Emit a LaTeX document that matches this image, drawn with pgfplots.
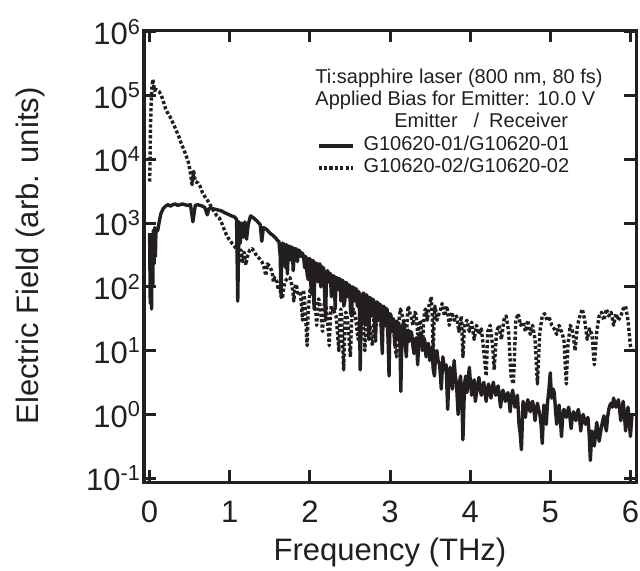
\documentclass[border=0pt]{standalone}
\usepackage{fontspec}
\setmainfont{Liberation Sans}
\usepackage{pgfplots}
\usepackage{pgfplotstable}
\pgfplotsset{compat=1.18}
\definecolor{ink}{HTML}{231F20}
\pgfplotstableread{
f v
0.000 700
0.008 55
0.016 520
0.024 45
0.032 330
0.040 110
0.048 780
0.056 230
0.064 850
0.072 300
0.080 820
0.100 760
0.120 1050
0.140 1400
0.170 1700
0.200 1850
0.230 1950
0.260 1850
0.290 1950
0.320 2000
0.350 1900
0.380 1950
0.410 2000
0.440 1950
0.470 1900
0.510 1950
0.540 1050
0.570 1900
0.600 1950
0.630 1900
0.660 1850
0.690 1750
0.720 1350
0.740 1700
0.780 1700
0.820 1650
0.860 1600
0.900 1550
0.940 1450
0.980 1380
1.020 1300
1.060 1250
1.085 1150
1.100 60
1.115 1050
1.130 480
1.150 1000
1.170 600
1.190 1050
1.210 560
1.230 950
1.260 1300
1.300 1200
1.340 1080
1.380 950
1.400 520
1.420 850
1.460 800
1.500 700
1.540 640
1.570 590
1.600 530
1.615 510
1.630 300
1.640 70
1.650 350
1.660 490
1.672 250
1.684 470
1.696 200
1.708 460
1.720 160
1.732 440
1.744 300
1.756 430
1.768 260
1.780 420
1.792 180
1.804 300
1.816 400
1.830 390
1.845 250
1.860 380
1.875 360
1.890 300
1.905 340
1.920 310
1.935 200
1.950 300
1.965 160
1.980 130
1.992 280
2.004 270
2.016 80
2.028 250
2.040 260
2.052 45
2.064 240
2.076 150
2.088 235
2.100 120
2.112 225
2.124 230
2.136 100
2.148 210
2.160 130
2.172 200
2.184 80
2.196 30
2.208 170
2.220 180
2.232 120
2.244 165
2.256 160
2.268 70
2.280 90
2.292 150
2.304 145
2.316 45
2.328 140
2.340 138
2.352 90
2.364 135
2.376 132
2.388 60
2.400 128
2.412 125
2.424 50
2.436 60
2.448 118
2.460 115
2.472 70
2.484 108
2.496 105
2.508 40
2.520 35
2.532 100
2.544 98
2.556 60
2.568 94
2.580 92
2.592 50
2.604 85
2.616 80
2.628 5
2.640 30
2.652 60
2.664 80
2.676 78
2.688 25
2.700 75
2.712 74
2.724 40
2.736 15
2.748 68
2.760 66
2.772 35
2.784 64
2.796 62
2.808 25
2.820 14
2.832 58
2.844 58
2.856 30
2.868 54
2.880 52
2.892 20
2.904 9
2.916 50
2.928 48
2.940 25
2.952 46
2.964 44
2.976 15
2.988 4
3.000 38
3.012 36
3.024 20
3.036 32
3.048 30
3.060 12
3.072 25
3.084 29
3.096 28
3.108 15
3.120 25
3.135 2.3
3.150 22
3.165 27
3.180 26
3.192 12
3.204 8
3.216 20
3.228 21
3.240 14
3.255 20
3.270 19
3.285 12
3.300 9
3.315 15
3.330 16
3.345 6
3.360 14
3.375 19
3.390 17
3.405 10
3.420 16
3.435 14
3.450 8
3.465 12
3.480 13
3.495 7
3.510 11
3.525 10
3.540 5
3.555 4
3.570 9
3.585 10
3.600 7
3.620 6
3.640 2.5
3.660 8
3.680 5
3.700 6
3.720 1.2
3.735 4
3.750 5.5
3.765 3.5
3.780 2.5
3.800 7
3.815 4
3.830 3
3.850 1
3.865 3
3.880 4
3.895 2
3.910 0.4
3.930 3
3.945 4
3.960 2.2
3.975 3.5
3.990 5.5
4.005 3
4.020 2
4.035 3
4.050 3.5
4.065 1.6
4.080 2.2
4.095 3
4.110 3.8
4.125 2.5
4.140 2
4.155 2.6
4.170 3.2
4.185 2.2
4.200 1.6
4.215 2.5
4.230 3
4.245 2.2
4.260 1.8
4.275 2.6
4.290 3.2
4.305 2.4
4.320 2
4.335 2.5
4.350 2.8
4.365 1.9
4.380 1.3
4.395 2
4.410 2.4
4.425 1.9
4.440 1.6
4.455 2
4.470 2.2
4.485 1.7
4.500 1.1
4.515 1.9
4.530 2.4
4.545 1.8
4.560 1.3
4.575 1.7
4.590 2
4.600 1.2
4.610 0.7
4.625 0.5
4.640 0.28
4.660 1.6
4.675 1.2
4.690 0.9
4.705 1.4
4.720 1.7
4.735 1.3
4.750 1.1
4.765 1.5
4.780 1.6
4.795 1.2
4.810 0.8
4.825 1.2
4.840 1.5
4.855 1.2
4.870 1
4.885 0.7
4.900 0.35
4.920 1.4
4.935 1
4.950 0.7
4.965 1.5
4.980 2.2
5.000 4.5
5.010 2.5
5.020 1.8
5.035 2.5
5.050 2.2
5.065 1.2
5.080 0.7
5.095 1.1
5.110 1.4
5.125 0.9
5.140 0.45
5.155 0.9
5.170 1.2
5.185 1.1
5.200 0.9
5.215 1.1
5.230 1.3
5.245 0.9
5.260 0.6
5.275 0.9
5.290 1.1
5.305 1
5.320 0.8
5.335 1
5.350 1.2
5.365 0.9
5.380 0.55
5.395 0.8
5.410 1
5.425 0.85
5.440 0.7
5.455 0.8
5.470 0.9
5.485 0.5
5.500 0.19
5.520 0.55
5.535 0.45
5.550 0.32
5.565 0.5
5.580 0.75
5.595 0.55
5.610 0.38
5.625 0.5
5.640 0.65
5.655 0.8
5.670 0.95
5.685 0.7
5.700 0.55
5.715 0.9
5.730 1.2
5.745 1.4
5.760 1.5
5.775 1.3
5.790 1.8
5.805 1.5
5.820 1.3
5.835 1.5
5.850 1.7
5.865 1.2
5.880 0.8
5.895 1.2
5.910 1.6
5.925 1
5.940 0.55
5.955 0.9
5.970 1.3
5.985 0.8
6.000 0.45
6.020 1.0
}\solidtab
\pgfplotstableread{
f v
0.000 4500
0.005 8000
0.010 30000
0.020 80000
0.030 140000
0.040 180000
0.050 150000
0.060 120000
0.080 125000
0.100 120000
0.120 115000
0.140 105000
0.160 90000
0.180 75000
0.200 62000
0.220 55000
0.250 48000
0.280 40000
0.310 33000
0.340 27000
0.370 22000
0.400 17000
0.430 14000
0.460 11000
0.490 8500
0.510 6000
0.530 4000
0.550 6500
0.570 4500
0.600 4300
0.630 3800
0.660 3000
0.690 2600
0.720 2300
0.750 2000
0.780 1700
0.810 1500
0.840 1300
0.870 1200
0.900 1000
0.930 800
0.960 650
0.990 560
1.020 500
1.050 450
1.080 400
1.100 350
1.120 250
1.140 380
1.160 250
1.180 350
1.200 220
1.220 300
1.250 380
1.280 400
1.310 350
1.340 300
1.370 280
1.400 250
1.430 200
1.450 150
1.470 230
1.500 210
1.515 190
1.530 170
1.545 120
1.560 140
1.575 130
1.590 120
1.605 90
1.620 110
1.635 80
1.650 65
1.660 70
1.675 100
1.690 120
1.705 130
1.720 135
1.735 140
1.750 140
1.765 120
1.780 100
1.790 80
1.800 60
1.812 95
1.824 110
1.836 100
1.848 80
1.860 85
1.872 80
1.884 75
1.896 50
1.908 30
1.920 90
1.932 70
1.944 40
1.956 20
1.966 12
1.978 40
1.990 60
2.002 90
2.014 85
2.026 80
2.038 75
2.050 70
2.062 55
2.074 40
2.086 25
2.098 50
2.110 65
2.122 55
2.134 40
2.146 30
2.158 20
2.170 40
2.182 60
2.194 55
2.206 45
2.218 30
2.230 20
2.242 12
2.254 30
2.266 50
2.278 48
2.290 40
2.302 42
2.314 38
2.326 35
2.338 25
2.350 15
2.362 10
2.374 30
2.386 45
2.398 30
2.410 12
2.422 5
2.434 20
2.446 40
2.458 38
2.470 30
2.482 20
2.494 12
2.506 8
2.518 25
2.530 40
2.542 45
2.554 40
2.566 35
2.578 28
2.590 20
2.602 15
2.614 25
2.626 40
2.638 35
2.650 30
2.662 25
2.674 18
2.686 10
2.698 22
2.710 35
2.722 35
2.734 30
2.746 25
2.758 20
2.770 14
2.782 12
2.794 25
2.806 40
2.818 35
2.830 25
2.842 30
2.854 40
2.866 45
2.878 35
2.890 25
2.902 20
2.914 28
2.926 35
2.938 33
2.950 30
2.962 25
2.974 18
2.986 12
2.998 22
3.010 35
3.022 30
3.034 25
3.046 20
3.058 15
3.070 10
3.082 8
3.094 15
3.106 25
3.118 35
3.130 45
3.142 40
3.154 35
3.166 30
3.178 25
3.190 20
3.202 15
3.214 30
3.226 50
3.238 45
3.250 38
3.262 35
3.274 30
3.286 25
3.298 32
3.310 40
3.322 38
3.334 28
3.346 18
3.358 22
3.370 30
3.382 28
3.394 20
3.406 12
3.418 25
3.430 40
3.442 45
3.454 38
3.466 30
3.478 40
3.490 55
3.502 60
3.514 70
3.526 40
3.538 8
3.550 30
3.562 50
3.574 40
3.586 30
3.600 35
3.620 40
3.650 55
3.680 35
3.710 50
3.740 25
3.770 40
3.800 30
3.830 35
3.860 20
3.890 35
3.910 8
3.930 25
3.960 30
3.990 20
4.020 28
4.050 15
4.080 25
4.110 18
4.140 22
4.170 10
4.200 4
4.220 20
4.250 25
4.280 12
4.300 5
4.330 20
4.360 25
4.390 15
4.420 30
4.450 35
4.480 20
4.510 4
4.540 3
4.570 30
4.600 38
4.630 25
4.660 28
4.690 20
4.720 30
4.750 18
4.780 25
4.810 15
4.840 3
4.870 20
4.900 35
4.930 38
4.960 30
4.990 32
5.020 25
5.050 22
5.080 18
5.110 25
5.140 20
5.170 15
5.200 3
5.220 12
5.250 25
5.280 20
5.310 10
5.340 25
5.370 35
5.400 45
5.430 30
5.460 15
5.490 22
5.520 18
5.550 6
5.580 20
5.610 35
5.640 40
5.670 30
5.700 45
5.730 35
5.760 40
5.790 25
5.820 38
5.850 30
5.880 35
5.910 45
5.940 50
5.970 30
6.000 12
6.020 10
}\dottab
\begin{document}
\begin{tikzpicture}
\useasboundingbox (-72pt,-44pt) rectangle (248pt,241pt);
\begin{axis}[
  at={(0,0)}, anchor=south west,
  scale only axis, width=246pt, height=226pt,
  xmin=-0.07, xmax=6.07,
  ymode=log, ymin=0.0871, ymax=1.07e6,
  xtick={0,1,2,3,4,5,6},
  ytick={0.1,1,10,100,1000,10000,100000,1000000},
  yticklabels={10\textsuperscript{-1},10\textsuperscript{0},10\textsuperscript{1},10\textsuperscript{2},10\textsuperscript{3},10\textsuperscript{4},10\textsuperscript{5},10\textsuperscript{6}},
  yminorticks=false, xminorticks=false,
  tick align=inside, major tick length=6pt,
  major tick style={line width=1.5pt, ink},
  axis line style={line width=1.5pt, ink},
  /pgf/number format/assume math mode=true,
  ticklabel style={font=\fontsize{15.5}{18}\selectfont, text=ink},
  xticklabel style={yshift=-6pt},
  yticklabel style={xshift=2pt},
  xlabel={Frequency (THz)}, ylabel={Electric Field (arb. units)},
  every axis x label/.style={at={([yshift=-35pt]axis description cs:0.5,0)}, anchor=center, font=\fontsize{15.5}{18}\selectfont, text=ink},
  every axis y label/.style={at={([xshift=-57pt]axis description cs:0,0.5)}, anchor=center, rotate=90, font=\fontsize{15.5}{18}\selectfont, text=ink},
  legend cell align=left,
  legend style={draw=none, fill=none, at={(rel axis cs:0.3516,0.7677)}, anchor=north west,
    inner sep=0pt, outer sep=0pt, row sep=0pt, column sep=4.5pt,
    font=\fontsize{10}{11}\selectfont, text=ink,
    nodes={inner sep=0pt, text height=7.5pt, text depth=3.5pt}},
]
\addplot[ink, line width=1.7pt, line join=round] table[x=f, y=v] {\solidtab};
\addlegendentry{G10620-01/G10620-01}
\addplot[ink, line width=1.7pt, line join=round, dash pattern=on 1.6pt off 1.1pt] table[x=f, y=v] {\dottab};
\addlegendentry{G10620-02/G10620-02}
\node[anchor=base west, inner sep=0pt, font=\fontsize{10}{11}\selectfont, text=ink] at (rel axis cs:0.3476,0.8827) {Ti:sapphire laser (800 nm, 80 fs)};
\node[anchor=base west, inner sep=0pt, font=\fontsize{10}{11}\selectfont, text=ink] at (rel axis cs:0.3476,0.834) {Applied Bias for Emitter: 10.0 V};
\node[anchor=base west, inner sep=0pt, font=\fontsize{10}{11}\selectfont, text=ink] at (rel axis cs:0.508,0.785) {Emitter\hspace{8pt}/\hspace{5pt}Receiver};
\end{axis}
\end{tikzpicture}
\end{document}
